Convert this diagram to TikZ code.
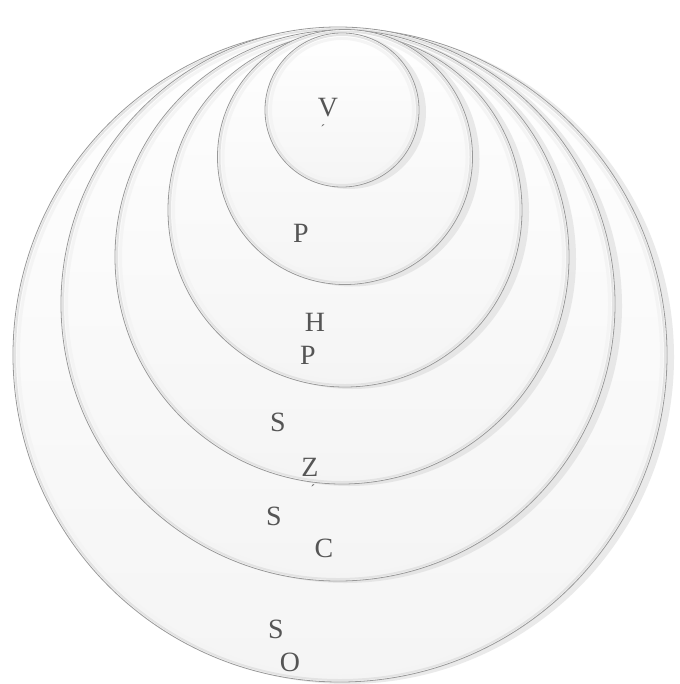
\documentclass[tikz,border=0pt]{standalone}
\usepackage{fontspec}
\setmainfont{Liberation Serif}
\usetikzlibrary{shadows}
\definecolor{lettergray}{HTML}{555555}
\begin{document}
\begin{tikzpicture}[x=1bp, y=-1bp,
    ring/.style={draw=gray!80, line width=0.8pt, circle, inner sep=0pt, outer sep=0pt,
        top color=white, bottom color=gray!8,
        drop shadow={shadow xshift=7bp, shadow yshift=-2bp, fill=gray!40, opacity=0.4}},
    bevel/.style={draw=gray!22, line width=2pt},
    glow/.style={draw=gray!9, line width=3pt},
    letter/.style={text=lettergray, font=\fontsize{28}{30}\selectfont, inner sep=0pt},
    accent/.style={text=lettergray, font=\fontsize{14}{14}\selectfont, inner sep=0pt}]
    \useasboundingbox (0,0) rectangle (680,684);
    \fill[white] (0,0) rectangle (680,684);

    % Rings, outermost first
    \node[ring, minimum size=654bp] (r6) at (340,355) {};
    \draw[bevel] (r6.center) circle (325);
    \draw[glow] (r6.center) circle (321.5);
    \node[ring, minimum size=554bp] (r5) at (338,304) {};
    \draw[bevel] (r5.center) circle (275);
    \draw[glow] (r5.center) circle (271.5);
    \node[ring, minimum size=454bp] (r4) at (342,257) {};
    \draw[bevel] (r4.center) circle (225);
    \draw[glow] (r4.center) circle (221.5);
    \node[ring, minimum size=354bp] (r3) at (345,210) {};
    \draw[bevel] (r3.center) circle (175);
    \draw[glow] (r3.center) circle (171.5);
    \node[ring, minimum size=255bp] (r2) at (345,157) {};
    \draw[bevel] (r2.center) circle (125.5);
    \draw[glow] (r2.center) circle (122);
    \node[ring, minimum size=154bp] (r1) at (342,110) {};
    \draw[bevel] (r1.center) circle (75);
    \draw[glow] (r1.center) circle (71.5);

    % Letters
    \node[letter] (v) at (328,108) {V};
    \node[accent] (va) at (323,130) {´};
    \node[letter] (p1) at (301,233) {P};
    \node[letter] (h) at (315,322) {H};
    \node[letter] (p2) at (308,355) {P};
    \node[letter] (s1) at (278,422) {S};
    \node[letter] (z) at (310,467) {Z};
    \node[accent] (za) at (313,490) {´};
    \node[letter] (s2) at (274,516) {S};
    \node[letter] (c) at (324,548) {C};
    \node[letter] (s3) at (276,629) {S};
    \node[letter] (o) at (290,662) {O};
\end{tikzpicture}
\end{document}
